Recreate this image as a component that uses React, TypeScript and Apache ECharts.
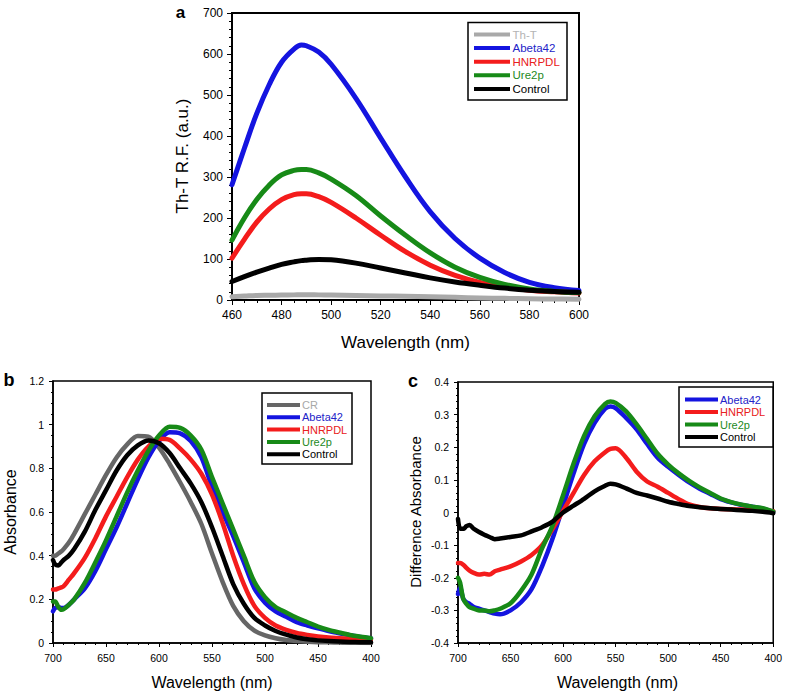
import React, { useEffect, useRef } from "react";
import * as echarts from "echarts";

// ---------- Panel a : Th-T fluorescence ----------
const aWavelength = [460, 465, 470, 475, 480, 485, 488, 490, 495, 500, 510, 520, 530, 540, 550, 560, 570, 580, 590, 600];
const aThT = [8, 9.5, 11, 11.5, 12, 12.5, 13, 13, 12.5, 12, 11, 10, 9, 8, 6.5, 5, 4, 3, 2.5, 2];
const aAbeta42 = [281, 370, 455, 525, 580, 612, 622, 620, 605, 575, 492, 395, 300, 215, 150, 102, 67, 43, 30, 23];
const aHNRPDL = [102, 148, 190, 222, 245, 257, 259, 259, 252, 238, 200, 158, 118, 85, 60, 43, 32, 24, 20, 17];
const aUre2p = [146, 200, 245, 280, 305, 316, 318, 318, 310, 295, 255, 205, 158, 115, 80, 55, 38, 27, 21, 18];
const aControl = [45, 57, 68, 78, 87, 93, 96, 97, 99, 98, 90, 78, 66, 54, 44, 36, 29, 24, 21, 19];

// ---------- Panel b : Congo red absorbance ----------
const bWavelength = [700, 698, 695, 692, 690, 685, 680, 670, 660, 650, 640, 630, 620, 610, 600, 590, 580, 570, 560, 550, 540, 530, 520, 510, 500, 490, 480, 470, 460, 450, 440, 430, 420, 410, 400];
const bCR = [0.40, 0.40, 0.41, 0.42, 0.43, 0.46, 0.50, 0.59, 0.68, 0.77, 0.85, 0.91, 0.948, 0.945, 0.895, 0.82, 0.735, 0.645, 0.545, 0.41, 0.28, 0.17, 0.10, 0.057, 0.035, 0.022, 0.014, 0.009, 0.006, 0.004, 0.003, 0.002, 0.001, 0.001, 0];
const bAbeta42 = [0.145, 0.16, 0.165, 0.16, 0.16, 0.175, 0.20, 0.25, 0.33, 0.43, 0.53, 0.64, 0.75, 0.85, 0.925, 0.965, 0.96, 0.925, 0.85, 0.715, 0.60, 0.49, 0.37, 0.25, 0.185, 0.145, 0.12, 0.095, 0.08, 0.067, 0.055, 0.045, 0.036, 0.028, 0.022];
const bHNRPDL = [0.245, 0.245, 0.25, 0.255, 0.26, 0.29, 0.32, 0.39, 0.48, 0.58, 0.67, 0.76, 0.84, 0.90, 0.935, 0.93, 0.89, 0.84, 0.775, 0.68, 0.55, 0.40, 0.27, 0.17, 0.115, 0.08, 0.06, 0.046, 0.037, 0.03, 0.025, 0.022, 0.019, 0.017, 0.015];
const bUre2p = [0.19, 0.19, 0.165, 0.152, 0.155, 0.175, 0.20, 0.275, 0.37, 0.47, 0.58, 0.69, 0.79, 0.88, 0.95, 0.99, 0.985, 0.95, 0.885, 0.76, 0.64, 0.52, 0.40, 0.28, 0.21, 0.165, 0.14, 0.115, 0.095, 0.075, 0.06, 0.048, 0.037, 0.029, 0.022];
const bControl = [0.38, 0.36, 0.355, 0.37, 0.38, 0.40, 0.43, 0.51, 0.61, 0.70, 0.79, 0.86, 0.905, 0.928, 0.915, 0.87, 0.80, 0.73, 0.645, 0.53, 0.40, 0.27, 0.18, 0.115, 0.08, 0.055, 0.038, 0.025, 0.017, 0.012, 0.009, 0.007, 0.005, 0.004, 0.003];

// ---------- Panel c : difference absorbance ----------
const cWavelength = [700, 698, 695, 692, 689, 685, 680, 675, 670, 665, 660, 650, 640, 630, 620, 610, 600, 590, 580, 570, 560, 555, 550, 540, 530, 520, 510, 500, 490, 480, 470, 460, 450, 440, 430, 420, 410, 400];
const cAbeta42 = [-0.25, -0.23, -0.265, -0.275, -0.28, -0.29, -0.295, -0.30, -0.305, -0.31, -0.312, -0.30, -0.275, -0.235, -0.165, -0.08, 0.02, 0.12, 0.21, 0.275, 0.318, 0.325, 0.32, 0.29, 0.255, 0.21, 0.168, 0.14, 0.115, 0.092, 0.073, 0.057, 0.041, 0.031, 0.023, 0.018, 0.012, 0.002];
const cHNRPDL = [-0.155, -0.155, -0.16, -0.17, -0.178, -0.185, -0.19, -0.188, -0.19, -0.18, -0.175, -0.165, -0.15, -0.13, -0.10, -0.05, 0.005, 0.06, 0.115, 0.157, 0.185, 0.195, 0.197, 0.168, 0.125, 0.095, 0.079, 0.06, 0.041, 0.025, 0.017, 0.013, 0.011, 0.01, 0.009, 0.008, 0.006, 0.004];
const cUre2p = [-0.20, -0.215, -0.265, -0.28, -0.29, -0.295, -0.30, -0.30, -0.303, -0.30, -0.295, -0.278, -0.24, -0.19, -0.11, -0.04, 0.053, 0.15, 0.235, 0.295, 0.333, 0.34, 0.336, 0.31, 0.27, 0.225, 0.18, 0.147, 0.12, 0.097, 0.077, 0.06, 0.043, 0.032, 0.024, 0.018, 0.013, 0.003];
const cControl = [-0.02, -0.05, -0.05, -0.042, -0.038, -0.05, -0.06, -0.068, -0.075, -0.082, -0.08, -0.075, -0.07, -0.058, -0.045, -0.028, 0.0, 0.021, 0.042, 0.065, 0.082, 0.088, 0.086, 0.074, 0.06, 0.052, 0.043, 0.033, 0.026, 0.02, 0.016, 0.013, 0.011, 0.009, 0.007, 0.005, 0.002, -0.002];

// ---------- names / titles ----------
const aNames = ["Th-T", "Abeta42", "HNRPDL", "Ure2p", "Control"];
const bNames = ["CR", "Abeta42", "HNRPDL", "Ure2p", "Control"];
const cNames = ["Abeta42", "HNRPDL", "Ure2p", "Control"];
const xTitle = "Wavelength (nm)";
const aYTitle = "Th-T R.F. (a.u.)";
const bYTitle = "Absorbance";
const cYTitle = "Difference Absorbance";

const FONT = "'Liberation Sans', Arial, Helvetica, sans-serif";
const LINE_COLOR: Record<string, string> = {
  "Th-T": "#a9a9a9",
  CR: "#666666",
  Abeta42: "#1414e0",
  HNRPDL: "#f41c1c",
  Ure2p: "#178a17",
  Control: "#000000",
};
const TEXT_COLOR: Record<string, string> = {
  "Th-T": "#b4b4b4",
  CR: "#a8a8a8",
  Abeta42: "#2323c8",
  HNRPDL: "#e82020",
  Ure2p: "#1d8a1d",
  Control: "#000000",
};

const pair = (xs: number[], ys: number[]) => xs.map((x, i) => [x, ys[i]]);

function lineSeries(name: string, xs: number[], ys: number[], idx: number, width: number, smooth: number) {
  return {
    type: "line",
    name,
    xAxisIndex: idx,
    yAxisIndex: idx,
    data: pair(xs, ys),
    showSymbol: false,
    smooth,
    lineStyle: { color: LINE_COLOR[name], width, cap: "round", join: "round" },
    itemStyle: { color: LINE_COLOR[name] },
  };
}

function legend(names: string[], box: { x: number; y: number; w: number; h: number }, lineX1: number, lineX2: number, textX: number, firstY: number, step: number, fontSize: number, lw: number) {
  const els: any[] = [
    { type: "rect", z: 100, shape: { x: box.x, y: box.y, width: box.w, height: box.h }, style: { fill: "#fff", stroke: "#000", lineWidth: 1.5 } },
  ];
  names.forEach((n, i) => {
    const y = firstY + i * step;
    els.push({ type: "line", z: 101, shape: { x1: lineX1, y1: y, x2: lineX2, y2: y }, style: { stroke: LINE_COLOR[n], lineWidth: lw } });
    els.push({ type: "text", z: 101, x: textX, y, style: { text: n, fill: TEXT_COLOR[n], font: `${fontSize}px ${FONT}`, textAlign: "left", verticalAlign: "middle", textVerticalAlign: "middle" } });
  });
  return els;
}

function txt(text: string, x: number, y: number, size: number, rot = 0, bold = false) {
  return {
    type: "text",
    z: 100,
    x,
    y,
    rotation: rot,
    style: { text, fill: "#000", font: `${bold ? "bold " : ""}${size}px ${FONT}`, textAlign: "center", verticalAlign: "middle", textVerticalAlign: "middle" },
  };
}

function xAxisCfg(idx: number, min: number, max: number, interval: number, minorSplit: number, inverse: boolean, fs: number, lw: number, tickLen: number) {
  return {
    type: "value",
    gridIndex: idx,
    min,
    max,
    interval,
    inverse,
    axisLine: { show: true, onZero: false, lineStyle: { color: "#000", width: lw } },
    axisTick: { show: true, length: tickLen, lineStyle: { color: "#000", width: 1 } },
    minorTick: { show: true, splitNumber: minorSplit, length: tickLen - 2, lineStyle: { color: "#000", width: 1 } },
    splitLine: { show: false },
    minorSplitLine: { show: false },
    axisLabel: { color: "#000", fontSize: fs, fontFamily: FONT, margin: 9 },
  };
}

function yAxisCfg(idx: number, min: number, max: number, interval: number, minorSplit: number, fs: number, lw: number, tickLen: number) {
  return {
    type: "value",
    gridIndex: idx,
    min,
    max,
    interval,
    axisLine: { show: true, onZero: false, lineStyle: { color: "#000", width: lw } },
    axisTick: { show: true, length: tickLen, lineStyle: { color: "#000", width: 1 } },
    minorTick: { show: true, splitNumber: minorSplit, length: tickLen - 2, lineStyle: { color: "#000", width: 1 } },
    splitLine: { show: false },
    minorSplitLine: { show: false },
    axisLabel: { color: "#000", fontSize: fs, fontFamily: FONT, margin: 9 },
  };
}

export default function App() {
  const ref = useRef<HTMLDivElement>(null);
  useEffect(() => {
    if (!ref.current) return;
    const chart = echarts.init(ref.current, null, { renderer: "svg" });
    const aGrid = { left: 232, top: 13, width: 347, height: 287 };
    const bGrid = { left: 53, top: 381, width: 318, height: 262 };
    const cGrid = { left: 458, top: 382, width: 319, height: 261 };
    const aVals = [aThT, aAbeta42, aHNRPDL, aUre2p, aControl];
    const bVals = [bCR, bAbeta42, bHNRPDL, bUre2p, bControl];
    const cVals = [cAbeta42, cHNRPDL, cUre2p, cControl];
    const series: any[] = [
      ...aNames.map((n, i) => lineSeries(n, aWavelength, aVals[i], 0, 5, 0.4)),
      ...bNames.map((n, i) => lineSeries(n, bWavelength, bVals[i], 1, 4.5, 0.3)),
      ...cNames.map((n, i) => lineSeries(n, cWavelength, cVals[i], 2, 4.5, 0.3)),
    ];
    const option: any = {
      animation: false,
      backgroundColor: "#fff",
      grid: [
        { ...aGrid, show: true, borderColor: "#000", borderWidth: 2, backgroundColor: "transparent" },
        { ...bGrid, show: true, borderColor: "#000", borderWidth: 1.5, backgroundColor: "transparent" },
        { ...cGrid, show: true, borderColor: "#000", borderWidth: 1.5, backgroundColor: "transparent" },
      ],
      xAxis: [
        xAxisCfg(0, 460, 600, 20, 4, false, 12, 2, 5),
        xAxisCfg(1, 400, 700, 50, 5, true, 10.5, 1.5, 4),
        xAxisCfg(2, 400, 700, 50, 5, true, 10.5, 1.5, 4),
      ],
      yAxis: [
        yAxisCfg(0, 0, 700, 100, 5, 12, 2, 5),
        yAxisCfg(1, 0, 1.2, 0.2, 4, 10.5, 1.5, 4),
        yAxisCfg(2, -0.4, 0.4, 0.1, 5, 10.5, 1.5, 4),
      ],
      series,
      graphic: {
        elements: [
          txt("a", 180.5, 12, 17, 0, true),
          txt("b", 9, 380, 18, 0, true),
          txt("c", 413, 381, 18, 0, true),
          txt(xTitle, 405.5, 342, 17),
          txt(aYTitle, 182, 156, 17, Math.PI / 2),
          txt(xTitle, 212, 682, 16),
          txt(bYTitle, 10, 512, 16, Math.PI / 2),
          txt(xTitle, 617.5, 682, 16),
          txt(cYTitle, 415, 512, 15, Math.PI / 2),
          ...legend(aNames, { x: 468, y: 22.5, w: 99, h: 77.5 }, 474, 510, 512.5, 34.5, 13.6, 11.5, 4),
          ...legend(bNames, { x: 262, y: 393, w: 90, h: 71 }, 267, 300, 302, 405, 12.3, 11, 4),
          ...legend(cNames, { x: 679, y: 387, w: 94, h: 60 }, 685, 718, 720, 399.5, 12.5, 11, 4),
        ],
      },
    };
    chart.setOption(option);
    return () => chart.dispose();
  }, []);
  return <div ref={ref} style={{ position: "absolute", left: 0, top: 0, width: 785, height: 692 }} />;
}
